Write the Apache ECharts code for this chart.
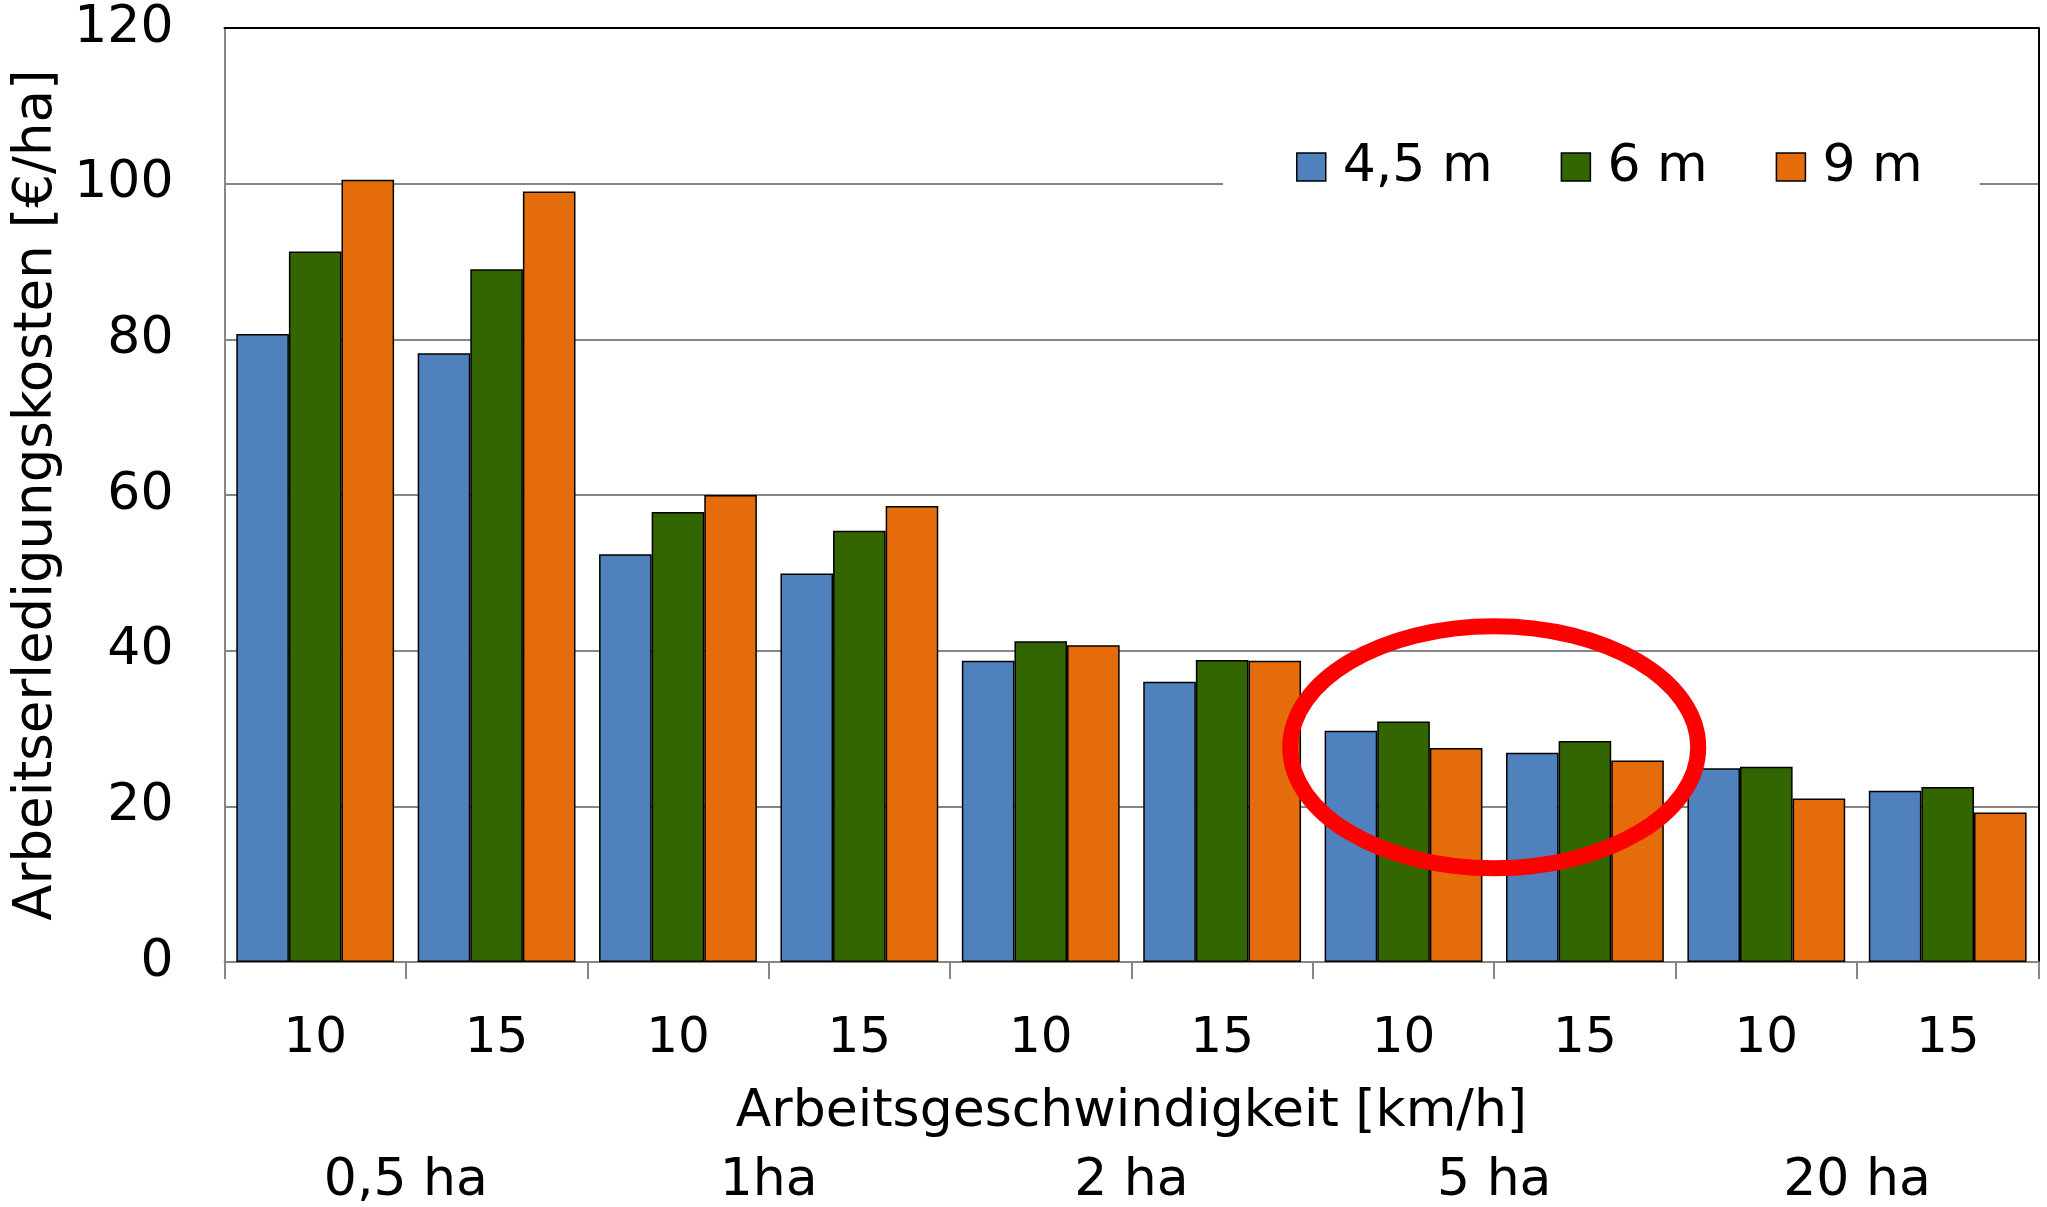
<!DOCTYPE html>
<html>
<head>
<meta charset="utf-8">
<script src="https://cdn.jsdelivr.net/npm/echarts@6/dist/echarts.min.js"></script>
<style>
  html, body { margin: 0; padding: 0; background: #fff; }
  #chart { width: 2047px; height: 1207px; }
</style>
</head>
<body>
<div id="chart"></div>
<script>
// Daten
const speeds = ['10', '15', '10', '15', '10', '15', '10', '15', '10', '15'];
const areas = ['0,5 ha', '1ha', '2 ha', '5 ha', '20 ha'];
const seriesNames = ['4,5 m', '6 m', '9 m'];
const cost45 = [80.7, 78.2, 52.4, 49.9, 38.7, 36.0, 29.7, 26.9, 24.9, 22.0];
const cost6 = [91.3, 89.0, 57.8, 55.4, 41.2, 38.8, 30.9, 28.4, 25.1, 22.5];
const cost9 = [100.5, 99.0, 60.0, 58.6, 40.7, 38.7, 27.5, 25.9, 21.0, 19.2];
const yTicks = [0, 20, 40, 60, 80, 100, 120];

const font = 'DejaVu Sans';
const colors = ['#4F81BD', '#336600', '#E46C0A'];

const chart = echarts.init(document.getElementById('chart'));

const barSeries = (name, data, color) => ({
  name: name,
  type: 'bar',
  data: data,
  barGap: 0,
  barCategoryGap: '13%',
  itemStyle: { color: color, borderColor: '#000', borderWidth: 1.5 },
  emphasis: { disabled: true }
});

const option = {
  animation: false,
  textStyle: { fontFamily: font, color: '#000' },
  grid: { left: 224.5, right: 8.6, top: 28, bottom: 237.7 },
  legend: {
    data: seriesNames,
    left: 1223,
    top: 133,
    padding: [8, 57, 8, 73],
    backgroundColor: '#fff',
    icon: 'rect',
    itemWidth: 29,
    itemHeight: 28,
    itemGap: 68,
    itemStyle: { borderColor: '#000', borderWidth: 1.5 },
    textStyle: { fontFamily: font, fontSize: 52, lineHeight: 50, color: '#000', padding: [0, 0, 0, 12] }
  },
  xAxis: [
    {
      type: 'category',
      data: speeds,
      position: 'bottom',
      name: 'Arbeitsgeschwindigkeit [km/h]',
      nameLocation: 'middle',
      nameGap: 124,
      nameTextStyle: { fontFamily: font, fontSize: 52, lineHeight: 52, color: '#000' },
      axisLine: { lineStyle: { color: '#868686', width: 2 } },
      axisTick: { show: true, interval: 0, length: 17, lineStyle: { color: '#868686', width: 2 } },
      axisLabel: { interval: 0, margin: 52, fontFamily: font, fontSize: 50, lineHeight: 50, color: '#000' }
    },
    {
      type: 'category',
      data: areas,
      position: 'bottom',
      axisLine: { show: false },
      axisTick: { show: false },
      axisLabel: { interval: 0, margin: 193, fontFamily: font, fontSize: 52, lineHeight: 52, color: '#000' }
    },
    {
      type: 'category',
      data: speeds,
      position: 'top',
      axisLine: { lineStyle: { color: '#000', width: 2 } },
      axisTick: { show: false },
      axisLabel: { show: false }
    }
  ],
  yAxis: [
    {
      type: 'value',
      min: yTicks[0],
      max: yTicks[yTicks.length - 1],
      interval: 20,
      name: 'Arbeitserledigungskosten [€/ha]',
      nameLocation: 'middle',
      nameGap: 153,
      nameRotate: 90,
      nameTextStyle: { fontFamily: font, fontSize: 53, lineHeight: 53, color: '#000' },
      axisLine: { show: true, lineStyle: { color: '#868686', width: 2 } },
      axisTick: { show: false },
      axisLabel: { margin: 51, fontFamily: font, fontSize: 52, color: '#000' },
      splitLine: { lineStyle: { color: '#868686', width: 2 } }
    },
    {
      type: 'value',
      min: yTicks[0],
      max: yTicks[yTicks.length - 1],
      interval: 20,
      position: 'right',
      axisLine: { show: true, lineStyle: { color: '#000', width: 2 } },
      axisTick: { show: false },
      axisLabel: { show: false },
      splitLine: { show: false }
    }
  ],
  series: [
    barSeries(seriesNames[0], cost45, colors[0]),
    barSeries(seriesNames[1], cost6, colors[1]),
    barSeries(seriesNames[2], cost9, colors[2])
  ]
};

chart.setOption(option);

// roter Kreis um die 5-ha-Gruppe
const c6 = chart.convertToPixel({ xAxisIndex: 0, yAxisIndex: 0 }, [6, 27.6]);
const c7 = chart.convertToPixel({ xAxisIndex: 0, yAxisIndex: 0 }, [7, 27.6]);
chart.setOption({
  graphic: [{
    type: 'ellipse',
    z: 100,
    shape: { cx: (c6[0] + c7[0]) / 2, cy: c6[1], rx: 204, ry: 121 },
    style: { fill: 'none', stroke: '#ff0000', lineWidth: 16 }
  }]
});
</script>
</body>
</html>
